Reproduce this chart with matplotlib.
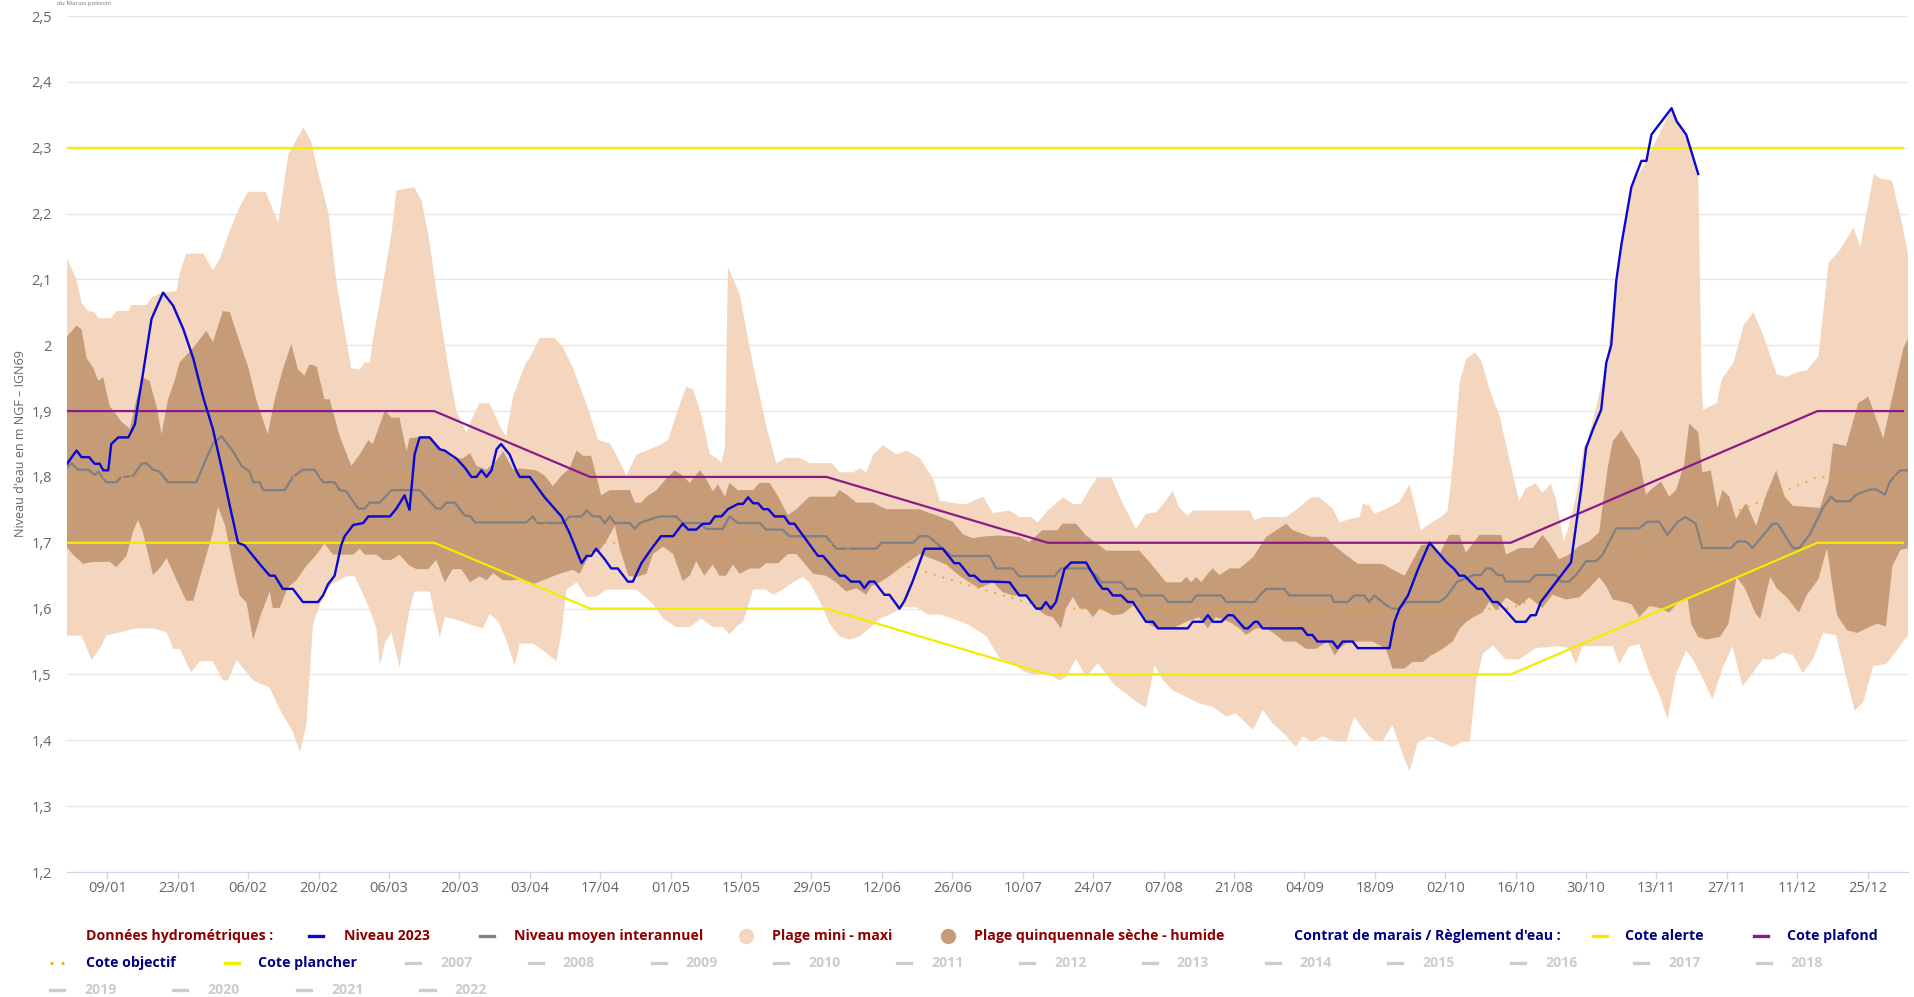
import os
import numpy as np
import pandas as pd
import matplotlib
matplotlib.use("Agg")
import matplotlib.pyplot as plt
import matplotlib.font_manager as fm
from matplotlib.lines import Line2D
from matplotlib.ticker import FuncFormatter

# ---------------- DATA (day offset from 01/01/2023, water level m NGF) ----------------
niveau_2023_jour = [0, 1.9, 2.9, 4.4, 5.5, 6.5, 7.2, 8.2, 8.8, 10.2, 12.2, 13.5, 14.1, 15.1, 16.8, 19.1, 21.1,
                    23.1, 25.1, 27.1, 29.0, 31.0, 32.4, 34.0, 35.3, 37.0, 38.6, 40.3, 41.3, 42.9, 44.9, 46.9,
                    49.9, 50.9, 51.9, 53.2, 54.5, 55.2, 56.9, 58.9, 59.9, 64.2, 65.5, 67.1, 68.1, 69.1, 70.1,
                    72.1, 74.1, 75.1, 76.4, 77.4, 79.1, 80.4, 81.4, 82.4, 83.4, 84.4, 85.4, 86.3, 88.0, 89.3,
                    90.0, 92.0, 94.96, 98.3, 99.9, 102.3, 103.3, 104.2, 105.2, 106.9, 108.2, 109.5, 111.5,
                    112.5, 114.2, 116.2, 118.1, 120.5, 122.4, 123.5, 125.1, 126.4, 127.8, 128.8, 130.1, 131.4,
                    133.4, 134.4, 135.4, 136.4, 137.4, 138.4, 139.4, 140.7, 142.6, 143.6, 144.6, 149.3, 150.3,
                    153.6, 154.6, 155.9, 157.6, 158.5, 159.5, 160.5, 162.5, 163.5, 165.5, 166.5, 168.1, 170.5,
                    174.1, 176.4, 177.4, 179.4, 180.4, 181.7, 184.0, 187.4, 189.3, 190.7, 192.7, 193.7, 194.6,
                    195.6, 196.6, 198.3, 199.6, 202.6, 204.9, 205.9, 206.9, 207.9, 209.6, 210.9, 211.9, 214.5,
                    215.9, 216.9, 222.8, 223.8, 225.8, 226.8, 227.8, 229.5, 230.8, 231.8, 234.1, 234.8, 236.1,
                    236.7, 237.7, 245.6, 246.6, 247.6, 248.6, 251.6, 252.6, 253.6, 255.6, 256.6, 262.9, 263.9,
                    264.9, 266.6, 268.6, 270.9, 274.3, 275.8, 276.8, 277.8, 279.1, 280.4, 281.4, 283.4, 284.4,
                    285.7, 288.0, 290.0, 291.0, 292.0, 293.0, 295.0, 297.0, 299.0, 300.0, 301.0, 302.0, 303.3,
                    305.0, 306.0, 307.0, 308.0, 309.0, 311.0, 313.0, 314.0, 315.0, 317.0, 319.0, 320.0, 321.9,
                    324.3]
niveau_2023 = [1.82, 1.84, 1.83, 1.83, 1.82, 1.82, 1.81, 1.81, 1.85, 1.86, 1.86, 1.88, 1.91, 1.957, 2.04, 2.08, 2.06,
               2.025, 1.98, 1.92, 1.873, 1.805, 1.755, 1.70, 1.696, 1.68, 1.665, 1.65, 1.65, 1.63, 1.63, 1.61,
               1.61, 1.62, 1.637, 1.65, 1.696, 1.71, 1.727, 1.73, 1.74, 1.74, 1.752, 1.772, 1.75, 1.834, 1.86,
               1.86, 1.842, 1.84, 1.833, 1.828, 1.814, 1.80, 1.80, 1.81, 1.80, 1.81, 1.842, 1.85, 1.834, 1.81,
               1.80, 1.80, 1.769, 1.74, 1.715, 1.669, 1.68, 1.68, 1.691, 1.675, 1.661, 1.661, 1.641,
               1.641, 1.669, 1.691, 1.71, 1.71, 1.729, 1.72, 1.72, 1.729, 1.729, 1.74, 1.74, 1.751,
               1.759, 1.759, 1.769, 1.76, 1.76, 1.751, 1.751, 1.74, 1.74, 1.729, 1.729, 1.68, 1.68,
               1.65, 1.65, 1.641, 1.641, 1.631, 1.641, 1.641, 1.621, 1.621, 1.60, 1.612, 1.641, 1.691,
               1.691, 1.669, 1.669, 1.65, 1.65, 1.641, 1.641, 1.64, 1.62, 1.62, 1.60, 1.60, 1.61,
               1.60, 1.61, 1.66, 1.67, 1.67, 1.64, 1.63, 1.63, 1.62, 1.62, 1.61, 1.61, 1.58,
               1.58, 1.57, 1.57, 1.58, 1.58, 1.59, 1.58, 1.58, 1.59, 1.59, 1.57, 1.57, 1.58,
               1.58, 1.57, 1.57, 1.56, 1.56, 1.55, 1.55, 1.54, 1.55, 1.55, 1.54, 1.54, 1.58,
               1.60, 1.62, 1.66, 1.70, 1.67, 1.66, 1.65, 1.65, 1.64, 1.63, 1.63, 1.61, 1.61,
               1.60, 1.58, 1.58, 1.59, 1.59, 1.61, 1.63, 1.65, 1.67, 1.726, 1.78, 1.844, 1.871,
               1.902, 1.973, 2.0, 2.098, 2.152, 2.24, 2.28, 2.28, 2.32, 2.34, 2.36, 2.34, 2.32,
               2.26]

moyen_jour = [0, 0.9, 2.2, 4.2, 5.5, 6.2, 7.8, 9.8, 10.8, 13.1, 14.8, 15.8, 17.1, 18.4, 20.1, 25.7, 27.7, 29.0,
              30.7, 33.0, 34.7, 36.3, 37.0, 38.3, 39.0, 43.3, 44.9, 46.9, 49.2, 50.9, 53.2, 54.2, 55.5, 57.9,
              59.2, 60.2, 62.2, 64.5, 70.1, 71.4, 73.4, 74.4, 75.4, 77.1, 79.1, 80.1, 81.1, 91.3,
              92.6, 93.6, 98.6, 99.9, 102.3, 103.3, 104.6, 105.9, 106.9, 107.9, 108.9, 111.9, 112.9, 113.8,
              117.8, 121.1, 122.4, 125.8, 127.1, 130.4, 131.7, 133.4, 137.7, 139.0, 142.3, 143.6, 150.9,
              152.9, 160.9, 161.9, 168.2, 169.5, 171.2, 172.8, 175.8, 183.4, 184.7,
              188.0, 189.3, 196.3, 197.6, 202.9, 204.6, 205.6, 209.6, 210.6, 212.5, 213.5, 217.9, 218.9,
              223.5, 224.5, 229.5, 230.5, 236.1, 237.1, 238.4, 242.0, 243.0, 251.3, 251.9, 254.6, 255.9,
              257.9, 258.9, 259.9, 261.5, 263.2, 264.9, 266.2, 272.8,
              274.1, 276.4, 279.7, 281.1, 282.1, 283.1, 284.4, 285.4, 286.0, 290.7, 292.0, 296.0, 297.0,
              298.6, 300.0, 302.0, 304.0, 305.3, 308.0, 312.6, 314.2, 316.5, 318.2, 320.2, 321.8, 323.8,
              325.1, 330.8, 332.1, 333.8, 335.1, 339.1, 340.1, 343.1, 344.4, 346.4, 349.1, 350.7, 351.7,
              354.4, 355.7, 358.4, 359.7, 361.4, 362.4, 364.4, 366.0]
moyen = [1.814, 1.821, 1.811, 1.811, 1.803, 1.808, 1.792, 1.792, 1.80, 1.801, 1.82, 1.821, 1.811, 1.808, 1.792,
         1.792, 1.828, 1.85, 1.862, 1.839, 1.817, 1.808, 1.792, 1.792, 1.78, 1.78, 1.80, 1.811, 1.811, 1.792,
         1.792, 1.78, 1.778, 1.752, 1.752, 1.761, 1.761, 1.78, 1.78, 1.769, 1.752, 1.752, 1.761, 1.761,
         1.741, 1.741, 1.731, 1.731,
         1.74, 1.73, 1.73, 1.74, 1.74, 1.749, 1.74, 1.74, 1.73, 1.74, 1.73, 1.73, 1.721, 1.73,
         1.74, 1.74, 1.73, 1.73, 1.721, 1.721, 1.74, 1.73, 1.73, 1.72, 1.72, 1.71, 1.71,
         1.691, 1.691, 1.70, 1.70, 1.71, 1.71, 1.70, 1.68, 1.68, 1.661,
         1.661, 1.649, 1.649, 1.661, 1.661, 1.65, 1.64, 1.64, 1.63, 1.63, 1.62, 1.62, 1.61,
         1.61, 1.62, 1.62, 1.61, 1.61, 1.62, 1.63, 1.63, 1.62, 1.62, 1.61, 1.61, 1.62,
         1.62, 1.61, 1.62, 1.61, 1.60, 1.60, 1.61, 1.61,
         1.617, 1.641, 1.651, 1.651, 1.661, 1.661, 1.651, 1.651, 1.641, 1.641, 1.651, 1.651, 1.641,
         1.641, 1.651, 1.672, 1.672, 1.682, 1.722, 1.722, 1.732, 1.732, 1.712, 1.732, 1.739, 1.729,
         1.692, 1.692, 1.702, 1.702, 1.692, 1.729, 1.729, 1.692, 1.692, 1.712, 1.753, 1.77, 1.763,
         1.763, 1.773, 1.781, 1.781, 1.773, 1.793, 1.81, 1.81]

maxi_jour = [0, 0.9, 1.9, 2.9, 4.2, 5.5, 6.2, 8.8, 9.8, 12.2, 12.8, 15.8, 16.8, 18.8, 21.8, 22.4, 23.7, 27.1,
             29.0, 30.4, 32.0, 34.3, 36.0, 39.5, 42.0, 44.0, 47.0, 48.5, 50.0, 52.0, 53.5, 55.0, 56.5, 58.2,
             59.2, 60.2, 60.8, 62.8, 64.5, 65.5, 69.0, 70.5, 72.0, 73.5, 75.5, 77.4, 79.4, 80.4, 82.0, 84.0,
             86.3, 87.3, 88.7, 91.3, 92.0, 94.0, 96.9, 98.6, 100.6, 103.3, 105.6, 107.9, 109.2, 111.2, 113.2,
             115.2, 117.8, 119.5, 121.1, 123.1, 124.5, 126.1, 127.8, 129.1, 130.1, 130.8, 131.4, 133.7,
             136.4, 139.0, 141.0, 143.0, 145.6, 147.6, 152.0, 153.6, 156.3, 157.6, 158.9, 160.3, 162.2,
             164.9, 166.9, 169.5, 172.2, 173.5, 177.4, 178.8, 182.1, 184.1, 187.4, 189.3, 191.7, 193.0,
             195.0, 198.0, 200.0, 201.6, 203.3, 204.9, 207.6, 209.6, 212.5, 214.5, 216.5, 218.5, 219.8,
             221.1, 222.8, 223.8, 235.1, 236.1, 237.7, 242.4, 245.0, 247.4, 249.0, 251.6, 253.0, 255.0,
             257.0, 257.6, 258.9, 259.9, 261.5, 262.9, 264.9, 266.9, 269.2, 270.9, 273.5, 274.5, 275.5,
             276.9, 278.2, 279.9, 281.2, 282.9, 284.9, 286.1, 288.7, 290.0, 292.0, 293.3, 295.0, 296.0,
             297.6, 298.6, 300.0, 301.6, 302.3, 306.0, 309.0, 311.0, 314.0, 319.0, 321.9, 324.3, 325.0,
             325.3, 328.0, 329.0, 331.3, 333.3, 335.3, 337.3, 339.9, 341.9, 343.9, 345.9, 348.2, 350.2,
             352.5, 355.2, 356.5, 359.2, 360.5, 362.8, 364.4, 366.0]
maxi = [2.131, 2.117, 2.10, 2.064, 2.052, 2.05, 2.041, 2.041, 2.052, 2.052, 2.061, 2.061, 2.072, 2.08, 2.082,
        2.109, 2.139, 2.139, 2.114, 2.131, 2.167, 2.21, 2.233, 2.233, 2.186, 2.29, 2.331, 2.31, 2.26, 2.2,
        2.1, 2.03, 1.965, 1.963, 1.974, 1.974, 2.008, 2.092, 2.17, 2.235, 2.24, 2.22, 2.16, 2.08, 1.98,
        1.90, 1.867, 1.887, 1.912, 1.912, 1.873, 1.862, 1.923, 1.974, 1.981, 2.011, 2.011, 1.997, 1.965,
        1.91, 1.856, 1.851, 1.834, 1.802, 1.834, 1.84, 1.848, 1.856, 1.894, 1.937, 1.932, 1.894, 1.834,
        1.829, 1.821, 1.845, 2.119, 2.078, 1.97, 1.878, 1.821, 1.829, 1.829, 1.821, 1.821, 1.807, 1.807,
        1.813, 1.807, 1.834, 1.848, 1.834, 1.84, 1.829, 1.797, 1.764, 1.759, 1.759, 1.77, 1.745, 1.749,
        1.739, 1.739, 1.731, 1.749, 1.769, 1.759, 1.759, 1.782, 1.80, 1.80, 1.764, 1.721, 1.744, 1.746,
        1.764, 1.779, 1.754, 1.741, 1.749, 1.749, 1.734, 1.739, 1.739, 1.754, 1.769, 1.769, 1.752, 1.731,
        1.736, 1.739, 1.759, 1.757, 1.744, 1.749, 1.754, 1.762, 1.789, 1.719, 1.729, 1.741, 1.749, 1.82,
        1.946, 1.979, 1.989, 1.976, 1.931, 1.89, 1.848, 1.763, 1.783, 1.79, 1.776, 1.79, 1.766, 1.702,
        1.726, 1.77, 1.847, 1.854, 1.969, 2.152, 2.24, 2.28, 2.36, 2.321, 2.26, 1.929, 1.902, 1.912,
        1.949, 1.973, 2.03, 2.05, 2.013, 1.956, 1.952, 1.959, 1.962, 1.983, 2.125, 2.145, 2.179, 2.149,
        2.26, 2.253, 2.25, 2.199, 2.138]

mini_jour = [0, 2.9, 4.9, 6.5, 7.8, 13.8, 17.1, 19.8, 21.1, 22.4, 24.7, 26.4, 29.0, 31.0, 32.0, 33.7, 37.0,
             40.3, 42.3, 44.9, 46.3, 47.6, 48.9, 50.9, 52.6, 55.5, 57.2, 59.9, 61.5, 62.2, 63.2, 64.5, 66.1,
             68.1, 69.1, 72.1, 74.1, 75.1, 77.1, 80.1, 82.7, 84.0, 85.7, 87.3, 89.0, 90.0, 92.6, 94.6, 97.3,
             98.3, 99.3, 101.3, 103.3, 105.2, 107.2, 113.2, 116.5, 118.5, 121.1, 123.8, 126.1, 128.4, 130.4,
             131.7, 133.0, 134.4, 136.4, 139.0, 140.4, 142.3, 144.3, 146.3, 147.6, 149.6, 151.6, 153.6,
             155.6, 157.6, 160.3, 161.6, 163.6, 166.2, 168.9, 171.2, 173.5, 176.1, 179.4, 182.8, 185.4,
             188.0, 190.3, 192.7, 195.0, 197.3, 198.6, 200.6, 202.6, 204.9, 206.6, 208.2, 210.6, 212.2,
             214.5, 216.2, 217.9, 219.8, 222.5, 225.1, 227.8, 230.5, 232.4, 234.4, 235.8, 237.7, 239.7,
             242.4, 244.3, 245.6, 247.6, 249.6, 252.3, 254.3, 255.9, 257.6, 259.6, 261.5, 263.5, 265.5,
             266.9, 268.5, 270.9, 272.9, 275.5, 277.5, 278.9, 280.2, 281.5, 283.5, 286.0, 288.7, 292.0,
             296.6, 298.6, 300.0, 301.3, 307.3, 308.6, 310.6, 312.6, 314.6, 316.6, 318.2, 319.9, 321.9,
             323.2, 325.1, 327.1, 329.1, 331.1, 333.1, 335.1, 337.1, 339.1, 341.1, 343.1, 345.1, 347.1,
             349.1, 351.7, 353.7, 355.4, 357.1, 359.1, 361.7, 363.7, 366.0]
mini = [1.559, 1.559, 1.522, 1.539, 1.559, 1.57, 1.57, 1.564, 1.539, 1.539, 1.503, 1.52, 1.52, 1.491, 1.491,
        1.522, 1.491, 1.48, 1.447, 1.413, 1.382, 1.424, 1.576, 1.62, 1.637, 1.649, 1.649, 1.604, 1.57, 1.514,
        1.548, 1.564, 1.511, 1.598, 1.626, 1.626, 1.556, 1.587, 1.584, 1.576, 1.57, 1.592, 1.581, 1.553,
        1.514, 1.547, 1.547, 1.537, 1.52, 1.564, 1.629, 1.64, 1.618, 1.618, 1.629, 1.629, 1.607, 1.585,
        1.572, 1.572, 1.585, 1.572, 1.572, 1.561, 1.572, 1.58, 1.629, 1.629, 1.621, 1.629, 1.64, 1.648,
        1.64, 1.612, 1.577, 1.558, 1.553, 1.558, 1.575, 1.585, 1.591, 1.602, 1.602, 1.591, 1.591, 1.585,
        1.575, 1.558, 1.524, 1.517, 1.504, 1.499, 1.501, 1.491, 1.496, 1.524, 1.496, 1.517, 1.501, 1.484,
        1.471, 1.461, 1.449, 1.514, 1.491, 1.476, 1.466, 1.456, 1.451, 1.436, 1.441, 1.426, 1.416, 1.446,
        1.426, 1.406, 1.39, 1.406, 1.398, 1.406, 1.398, 1.398, 1.436, 1.418, 1.40, 1.398, 1.423, 1.38,
        1.353, 1.396, 1.406, 1.398, 1.39, 1.398, 1.398, 1.491, 1.532, 1.544, 1.523, 1.523, 1.54, 1.543,
        1.54, 1.516, 1.543, 1.543, 1.516, 1.543, 1.546, 1.502, 1.469, 1.431, 1.502, 1.536, 1.523, 1.496,
        1.462, 1.509, 1.543, 1.482, 1.502, 1.523, 1.523, 1.533, 1.53, 1.502, 1.523, 1.563, 1.56, 1.496,
        1.445, 1.458, 1.513, 1.516, 1.536, 1.56]

humide_jour = [0, 1.9, 2.9, 3.9, 5.2, 6.2, 7.2, 8.5, 9.5, 10.8, 12.5, 13.8, 15.1, 16.4, 17.8, 18.8, 20.1, 21.4,
               22.4, 25.1, 27.7, 29.0, 31.0, 32.4, 34.3, 36.0, 37.6, 39.9, 41.3, 42.9, 44.6, 45.9, 47.2, 48.2,
               49.6, 51.2, 52.2, 54.2, 56.5, 58.2, 59.9, 60.8, 63.2, 64.5, 66.1, 67.5, 68.1, 72.1, 74.1, 76.7,
               78.7, 80.1, 81.4, 83.4, 85.4, 86.7, 88.7, 90.0, 93.3, 94.96, 96.6, 98.3, 99.9, 101.3, 102.6,
               104.2, 106.2, 107.9, 111.9, 112.9, 114.2, 115.2, 117.2, 119.1, 120.8, 122.4, 123.8, 125.8,
               126.7, 128.4, 129.4, 130.8, 131.7, 133.4, 136.4, 137.7, 139.7, 141.4, 143.3, 145.0, 147.6,
               152.6, 153.6, 155.2, 156.9, 160.2, 162.9, 169.5, 171.5, 173.5, 176.1, 178.1, 180.1, 182.8,
               185.4, 189.3, 191.3, 193.9, 196.9, 197.9, 200.6, 202.6, 204.9, 206.6, 213.2, 215.5, 218.5,
               221.5, 222.5, 223.5, 224.5, 225.5, 226.8, 227.8, 229.1, 231.1, 233.1, 235.8, 238.4, 240.4,
               242.4, 243.7, 247.4, 250.3, 251.6, 254.0, 256.6, 261.5, 263.9, 265.9, 267.9, 269.2, 270.9,
               272.8, 274.8, 276.8, 278.1, 280.8, 285.1, 286.1, 288.7, 291.4, 293.3, 294.7, 296.6, 298.6,
               300.6, 302.6, 304.6, 306.3, 307.3, 309.0, 310.9, 312.6, 313.9, 315.2, 316.9, 318.5, 319.9,
               321.5, 322.5, 324.3, 325.1, 326.8, 328.1, 329.1, 330.5, 331.8, 332.8, 333.8, 335.8, 337.8,
               339.8, 341.5, 343.1, 348.5, 350.2, 351.1, 353.7, 356.1, 358.1, 361.1, 363.1, 365.1, 366.0]
humide = [2.013, 2.03, 2.024, 1.98, 1.966, 1.946, 1.951, 1.907, 1.898, 1.884, 1.873, 1.918, 1.951, 1.946, 1.907,
          1.865, 1.918, 1.946, 1.974, 1.996, 2.022, 2.005, 2.052, 2.05, 2.005, 1.968, 1.918, 1.865, 1.918,
          1.963, 2.002, 1.963, 1.954, 1.971, 1.968, 1.918, 1.918, 1.862, 1.817, 1.834, 1.856, 1.85, 1.901,
          1.89, 1.89, 1.839, 1.859, 1.862, 1.845, 1.828, 1.828, 1.836, 1.817, 1.811, 1.825, 1.839, 1.811,
          1.813, 1.81, 1.802, 1.786, 1.802, 1.813, 1.84, 1.832, 1.832, 1.772, 1.78, 1.78, 1.761, 1.761,
          1.77, 1.78, 1.797, 1.81, 1.802, 1.791, 1.81, 1.802, 1.778, 1.789, 1.77, 1.791, 1.78, 1.78, 1.791,
          1.791, 1.77, 1.742, 1.751, 1.77, 1.77, 1.78, 1.772, 1.761, 1.761, 1.751, 1.751, 1.745, 1.74,
          1.732, 1.713, 1.707, 1.71, 1.711, 1.709, 1.701, 1.719, 1.719, 1.729, 1.729, 1.711, 1.698, 1.688,
          1.688, 1.668, 1.64, 1.64, 1.648, 1.64, 1.648, 1.64, 1.653, 1.661, 1.651, 1.661, 1.661, 1.678,
          1.709, 1.719, 1.729, 1.719, 1.709, 1.709, 1.698, 1.683, 1.668, 1.668, 1.658, 1.65, 1.678, 1.696,
          1.698, 1.682, 1.712, 1.712, 1.685, 1.712, 1.712, 1.682, 1.692, 1.692, 1.712, 1.699, 1.675, 1.682,
          1.695, 1.702, 1.716, 1.814, 1.854, 1.871, 1.847, 1.827, 1.773, 1.783, 1.793, 1.77, 1.78, 1.82,
          1.881, 1.868, 1.807, 1.81, 1.753, 1.78, 1.77, 1.736, 1.749, 1.76, 1.726, 1.773, 1.81, 1.77, 1.756,
          1.753, 1.793, 1.851, 1.847, 1.912, 1.922, 1.858, 1.929, 1.996, 2.01]

seche_jour = [0, 1.2, 3.2, 5.2, 8.5, 9.8, 11.8, 13.1, 14.1, 15.1, 17.1, 18.8, 19.8, 21.8, 23.7, 25.1, 27.1, 29.0,
              30.0, 31.4, 33.0, 34.3, 35.7, 37.0, 38.6, 40.3, 40.9, 42.3, 43.9, 45.6, 47.6, 49.6, 51.2, 52.9,
              56.9, 58.2, 59.2, 61.5, 62.8, 64.5, 66.1, 68.1, 69.5, 71.8, 73.4, 75.1, 76.7, 78.4, 80.1, 82.0,
              83.4, 84.7, 86.7, 88.7, 90.0, 92.6, 95.3, 97.9, 100.6, 101.9, 104.2, 105.6, 107.2, 108.9, 109.9,
              111.6, 113.2, 115.2, 116.5, 118.5, 120.5, 122.4, 123.8, 125.1, 126.7, 128.4, 129.7, 131.0,
              132.4, 133.7, 135.7, 137.7, 139.0, 141.4, 143.3, 145.0, 146.6, 148.3, 150.9, 152.9, 154.9,
              156.9, 158.9, 159.9, 161.6, 163.6, 165.5, 167.5, 169.5, 172.2, 174.8, 177.4, 179.4, 181.4,
              184.1, 186.0, 188.0, 190.7, 192.7, 194.6, 196.0, 197.6, 198.6, 200.0, 201.3, 202.6, 204.0,
              205.3, 207.9, 209.9, 212.5, 214.5, 216.5, 219.8, 222.5, 225.1, 226.8, 228.4, 231.1, 233.1,
              234.4, 236.4, 238.4, 240.0, 242.0, 244.3, 246.3, 248.3, 250.6, 252.0, 253.0, 254.6, 259.6,
              262.2, 263.5, 265.9, 267.5, 269.5, 271.2, 273.5, 275.5, 276.9, 278.2, 279.6, 281.4, 282.8,
              284.1, 286.1, 288.7, 290.7, 293.3, 295.3, 298.0, 300.6, 302.6, 304.6, 306.0, 307.3, 309.0,
              311.0, 312.6, 314.6, 316.6, 318.5, 320.5, 322.2, 322.9, 324.3, 325.9, 328.6, 330.3, 331.9,
              333.6, 335.6, 336.6, 338.6, 339.9, 341.9, 344.3, 345.9, 348.2, 349.9, 350.9, 351.9, 353.9,
              355.9, 358.6, 359.9, 361.6, 362.9, 364.5, 366.0]
seche = [1.693, 1.682, 1.668, 1.671, 1.671, 1.663, 1.68, 1.716, 1.735, 1.716, 1.651, 1.665, 1.677, 1.643, 1.612,
         1.612, 1.665, 1.716, 1.755, 1.727, 1.665, 1.62, 1.609, 1.553, 1.592, 1.626, 1.601, 1.601, 1.632, 1.643,
         1.665, 1.682, 1.699, 1.682, 1.682, 1.691, 1.682, 1.682, 1.674, 1.674, 1.682, 1.665, 1.66, 1.66,
         1.674, 1.64, 1.66, 1.66, 1.64, 1.649, 1.643, 1.654, 1.643, 1.643, 1.645, 1.637, 1.645, 1.653,
         1.659, 1.653, 1.686, 1.686, 1.702, 1.726, 1.691, 1.65, 1.648, 1.653, 1.683, 1.694, 1.683, 1.642,
         1.65, 1.672, 1.65, 1.667, 1.65, 1.65, 1.667, 1.653, 1.661, 1.661, 1.669, 1.669, 1.683, 1.683,
         1.669, 1.653, 1.65, 1.64, 1.626, 1.631, 1.621, 1.634, 1.64, 1.65, 1.661, 1.672, 1.683, 1.675,
         1.667, 1.65, 1.64, 1.631, 1.64, 1.625, 1.62, 1.62, 1.60, 1.59, 1.587, 1.57, 1.60, 1.618, 1.60,
         1.60, 1.587, 1.60, 1.59, 1.592, 1.608, 1.58, 1.57, 1.57, 1.58, 1.587, 1.57, 1.587, 1.58, 1.57,
         1.56, 1.57, 1.57, 1.562, 1.55, 1.55, 1.539, 1.539, 1.55, 1.529, 1.539, 1.55, 1.55, 1.539, 1.509,
         1.509, 1.519, 1.519, 1.529, 1.539, 1.55, 1.57, 1.58, 1.587, 1.594, 1.611, 1.597, 1.617, 1.604,
         1.617, 1.601, 1.621, 1.614, 1.617, 1.631, 1.648, 1.634, 1.614, 1.611, 1.607, 1.587, 1.604, 1.601,
         1.594, 1.611, 1.614, 1.577, 1.557, 1.553, 1.557, 1.577, 1.648, 1.631, 1.594, 1.584, 1.648, 1.631,
         1.617, 1.594, 1.621, 1.645, 1.692, 1.638, 1.59, 1.567, 1.563, 1.573, 1.577, 1.573, 1.665, 1.689,
         1.692]

# Contrat de marais / Règlement d'eau
reglement_dates = ["01/01", "15/03", "15/04", "01/06", "15/07", "15/10", "15/12", "01/01+"]
cote_plafond = [1.9, 1.9, 1.8, 1.8, 1.7, 1.7, 1.9, 1.9]
cote_objectif = [1.8, 1.8, 1.7, 1.7, 1.6, 1.6, 1.8, 1.8]
cote_plancher = [1.7, 1.7, 1.6, 1.6, 1.5, 1.5, 1.7, 1.7]
cote_alerte_dates = ["01/01", "01/01+"]
cote_alerte = [2.3, 2.3]

annees_legende = list(range(2007, 2023))


def to_day(s):
    if s.endswith("+"):
        return (pd.Timestamp("2024-" + s[3:5] + "-" + s[0:2]) - pd.Timestamp("2023-01-01")).days
    return (pd.Timestamp("2023-" + s[3:5] + "-" + s[0:2]) - pd.Timestamp("2023-01-01")).days


FAM = ["Open Sans", "DejaVu Sans"]

W, H = 1915, 997
fig = plt.figure(figsize=(W / 100, H / 100), dpi=100)
ax = fig.add_axes([67 / W, 1 - 872 / H, (1908 - 67) / W, (872 - 16) / H])

# colours
C_MAXI = "#f3d6bd"
C_QUIN = "#c69b78"
C_MOY = "#808080"
C_2023 = "#0808d0"
C_PLAF = "#8b1a89"
C_JAUNE = "#f3ec00"
C_OBJ = "#f0a030"

# bands
ax.fill(np.concatenate([maxi_jour, mini_jour[::-1]]), np.concatenate([maxi, mini[::-1]]),
        color=C_MAXI, lw=0, zorder=1)
ax.fill(np.concatenate([humide_jour, seche_jour[::-1]]), np.concatenate([humide, seche[::-1]]),
        color=C_QUIN, lw=0, zorder=2)

ax.plot(moyen_jour, moyen, color=C_MOY, lw=1.6, zorder=3)

rd = [to_day(s) for s in reglement_dates]
ad = [to_day(s) for s in cote_alerte_dates]
ax.plot(rd, cote_objectif, color=C_OBJ, lw=1.3, ls=(0, (1, 4)), zorder=4)
ax.plot(rd, cote_plancher, color=C_JAUNE, lw=1.6, zorder=4)
ax.plot(ad, cote_alerte, color=C_JAUNE, lw=1.6, zorder=4)
ax.plot(rd, cote_plafond, color=C_PLAF, lw=1.6, zorder=4)
ax.plot(niveau_2023_jour, niveau_2023, color=C_2023, lw=1.7, zorder=5)

# axes styling
ax.set_xlim(0, 366)
ax.set_ylim(1.2, 2.5)
ax.set_yticks(np.round(np.arange(1.2, 2.51, 0.1), 1))
ax.yaxis.set_major_formatter(FuncFormatter(lambda v, p: "2" if abs(v - 2) < 1e-9 else f"{v:.1f}".replace(".", ",")))
ticks = pd.date_range("2023-01-09", "2023-12-31", freq="14D")
ax.set_xticks((ticks - pd.Timestamp("2023-01-01")).days)
ax.set_xticklabels(ticks.strftime("%d/%m"))
ax.yaxis.grid(True, color="#e6e6e6", lw=1)
ax.set_axisbelow(True)
for s in ["top", "right", "left"]:
    ax.spines[s].set_visible(False)
ax.spines["bottom"].set_color("#ccd6eb")
ax.tick_params(axis="y", length=0, pad=11, labelcolor="#666666", labelsize=10.5)
ax.tick_params(axis="x", length=5, width=1, color="#ccd6eb", pad=1.5, labelcolor="#666666", labelsize=10.5)
for lbl in ax.get_xticklabels() + ax.get_yticklabels():
    lbl.set_family(FAM)

fig.text(21 / W, 1 - 444 / H, "Niveau d'eau en m NGF – IGN69", rotation=90, ha="center", va="center",
         color="#666666", fontsize=9, family=FAM)
fig.text(57 / W, 1 - 4 / H, "du Marais poitevin", ha="left", va="center", color="#777777",
         fontsize=4.5, family=FAM)

# ---------------- LEGEND (manual, bottom) ----------------
renderer = fig.canvas.get_renderer()
probe = fig.text(0, 0, "Données hydrométriques :", fontsize=10, family=FAM, weight="bold")
pw = probe.get_window_extent(renderer).width
probe.remove()
LEG_SIZE = 10 * 186.0 / pw

ROUGE = "#8b0000"
MARINE = "#000080"
GRIS = "#cccccc"


def ltext(x, y, s, c):
    fig.text(x / W, 1 - y / H, s, ha="left", va="center", color=c, fontsize=LEG_SIZE, family=FAM,
             weight="bold")


def ldash(x, y, c, ls="-", lw=2.4):
    fig.add_artist(Line2D([(x - 7) / W, (x + 7) / W], [1 - y / H, 1 - y / H], color=c, lw=lw, ls=ls,
                          transform=fig.transFigure))


def ldot(x, y, c):
    fig.add_artist(Line2D([x / W], [1 - y / H], marker="o", ms=10, color=c, lw=0, transform=fig.transFigure))


y1, y2, y3 = 936, 963, 990
ltext(86, y1, "Données hydrométriques :", ROUGE)
ldash(316, y1, C_2023)
ltext(344, y1, "Niveau 2023", ROUGE)
ldash(487, y1, C_MOY)
ltext(514, y1, "Niveau moyen interannuel", ROUGE)
ldot(746, y1, C_MAXI)
ltext(772, y1, "Plage mini - maxi", ROUGE)
ldot(948, y1, C_QUIN)
ltext(974, y1, "Plage quinquennale sèche - humide", ROUGE)
ltext(1294, y1, "Contrat de marais / Règlement d'eau :", MARINE)
ldash(1600, y1, C_JAUNE)
ltext(1625, y1, "Cote alerte", MARINE)
ldash(1761, y1, C_PLAF)
ltext(1787, y1, "Cote plafond", MARINE)

ldash(57, y2, C_OBJ, ls=(0, (1, 3)), lw=2)
ltext(86, y2, "Cote objectif", MARINE)
ldash(232, y2, C_JAUNE)
ltext(258, y2, "Cote plancher", MARINE)
for i, yr in enumerate(annees_legende):
    if i < 12:
        xd, yy = 413 + 122.8 * i, y2
    else:
        xd, yy = 57 + 123.5 * (i - 12), y3
    ldash(xd, yy, GRIS)
    ltext(xd + 27, yy, str(yr), GRIS)

fig.savefig("out.png", dpi=100)
